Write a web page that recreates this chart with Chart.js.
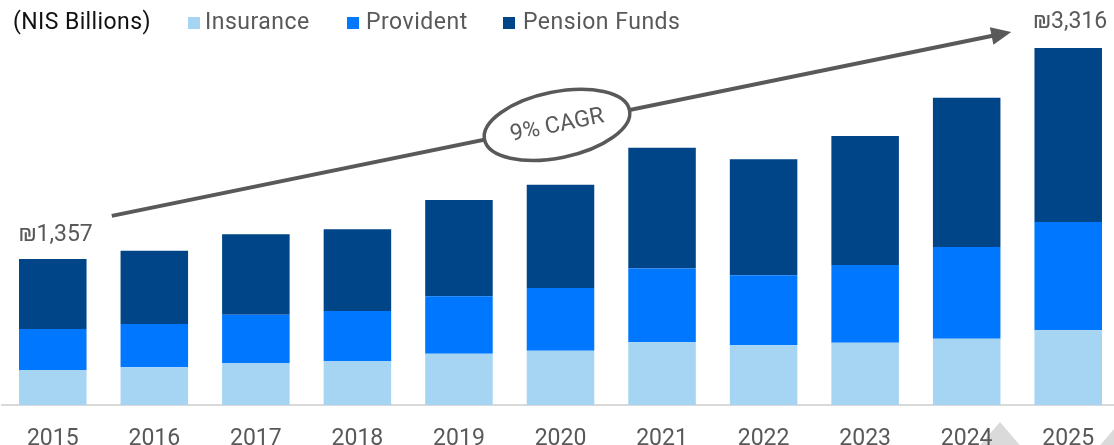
<!DOCTYPE html>
<html lang="en">
<head>
  <meta charset="UTF-8">
  <title>Pension Savings - NIS Billions</title>
  <style>
    html, body {
      margin: 0;
      padding: 0;
      background: #ffffff;
      overflow: hidden;
      width: 1114px;
      height: 445px;
    }
    .wrap {
      position: relative;
      width: 1114px;
      height: 445px;
      overflow: hidden;
      font-family: Roboto, "Noto Sans", Arial, sans-serif;
    }
    canvas {
      position: absolute;
      left: 0;
      top: 0;
    }
    .title {
      position: absolute;
      left: 13px;
      top: 10px;
      font-size: 23px;
      line-height: 23px;
      letter-spacing: 0.4px;
      color: #111;
      white-space: nowrap;
    }
    .lg-box {
      position: absolute;
      top: 17px;
      width: 12px;
      height: 12px;
    }
    .lg-text {
      position: absolute;
      top: 10px;
      font-size: 23px;
      line-height: 23px;
      letter-spacing: 0.5px;
      color: #595959;
      white-space: nowrap;
    }
  </style>
</head>
<body>
  <div class="wrap">
    <canvas id="aumChart" width="1120" height="445"></canvas>
    <div class="title">(NIS Billions)</div>
    <div id="legend"></div>
  </div>

  <script src="https://cdn.jsdelivr.net/npm/chart.js"></script>

  <script>
    const years = ["2015", "2016", "2017", "2018", "2019", "2020", "2021", "2022", "2023", "2024", "2025"];
    const insurance = [325, 350, 390, 409, 477, 505, 582, 555, 579, 616, 694];
    const provident = [381, 402, 449, 465, 533, 582, 687, 650, 722, 852, 1006];
    const pension   = [651, 681, 747, 759, 895, 960, 1120, 1078, 1198, 1387, 1616];
    const startLabel = "₪1,357";
    const endLabel = "₪3,316";
    const cagrText = "9% CAGR";

    const colors = {
      insurance: "#a6d5f3",
      provident: "#0077ff",
      pension: "#004587"
    };
    const gray = "#595959";

    // legend in html so it can sit exactly where the original has it
    const legendItems = [
      { text: "Insurance", color: colors.insurance, box: 188, left: 205 },
      { text: "Provident", color: colors.provident, box: 347, left: 366 },
      { text: "Pension Funds", color: colors.pension, box: 503, left: 523 }
    ];
    const legendBox = document.getElementById("legend");
    legendItems.forEach(item => {
      const b = document.createElement("div");
      b.className = "lg-box";
      b.style.left = item.box + "px";
      b.style.background = item.color;
      legendBox.appendChild(b);
      const t = document.createElement("div");
      t.className = "lg-text";
      t.style.left = item.left + "px";
      t.textContent = item.text;
      legendBox.appendChild(t);
    });

    const annotate = {
      id: "annotate",
      beforeDraw(chart) {
        // light gray decorative triangles at the bottom right
        const ctx = chart.ctx;
        ctx.save();
        ctx.fillStyle = "#dadada";
        ctx.beginPath();
        ctx.moveTo(1000, 422);
        ctx.lineTo(1024, 450);
        ctx.lineTo(976, 450);
        ctx.closePath();
        ctx.fill();
        ctx.beginPath();
        ctx.moveTo(1120, 422);
        ctx.lineTo(1144, 450);
        ctx.lineTo(1096, 450);
        ctx.closePath();
        ctx.fill();
        ctx.restore();
      },
      afterDraw(chart) {
        const ctx = chart.ctx;
        const top = chart.getDatasetMeta(2).data;
        const first = top[0];
        const last = top[top.length - 1];

        ctx.save();
        ctx.fillStyle = gray;
        ctx.font = "23px Roboto, 'DejaVu Sans', sans-serif";
        ctx.textAlign = "center";
        ctx.textBaseline = "middle";
        ctx.fillText(startLabel, first.x + 3, first.y - 24);
        ctx.fillText(endLabel, last.x + 2, last.y - 26);

        // CAGR arrow
        const x1 = first.x + 59, y1 = first.y - 43;
        const x2 = last.x - 57, y2 = last.y - 16;
        const ang = Math.atan2(y2 - y1, x2 - x1);
        ctx.strokeStyle = gray;
        ctx.lineWidth = 4;
        ctx.beginPath();
        ctx.moveTo(x1, y1);
        ctx.lineTo(x2 - 14 * Math.cos(ang), y2 - 14 * Math.sin(ang));
        ctx.stroke();
        ctx.beginPath();
        ctx.moveTo(x2, y2);
        ctx.lineTo(x2 - 20 * Math.cos(ang) + 9 * Math.sin(ang), y2 - 20 * Math.sin(ang) - 9 * Math.cos(ang));
        ctx.lineTo(x2 - 20 * Math.cos(ang) - 9 * Math.sin(ang), y2 - 20 * Math.sin(ang) + 9 * Math.cos(ang));
        ctx.closePath();
        ctx.fill();

        // ellipse with the label
        const cx = 557;
        const cy = y1 + (cx - x1) * Math.tan(ang);
        ctx.translate(cx, cy);
        ctx.rotate(ang);
        ctx.beginPath();
        ctx.ellipse(0, 0, 74, 33, 0, 0, Math.PI * 2);
        ctx.fillStyle = "#ffffff";
        ctx.fill();
        ctx.lineWidth = 3.5;
        ctx.stroke();
        ctx.fillStyle = gray;
        ctx.font = "23px Roboto, sans-serif";
        ctx.fillText(cagrText, 0, 1);
        ctx.restore();
      }
    };

    new Chart(document.getElementById("aumChart").getContext("2d"), {
      type: "bar",
      data: {
        labels: years,
        datasets: [
          { label: "Insurance", data: insurance, backgroundColor: colors.insurance },
          { label: "Provident", data: provident, backgroundColor: colors.provident },
          { label: "Pension Funds", data: pension, backgroundColor: colors.pension }
        ]
      },
      options: {
        responsive: false,
        animation: false,
        events: [],
        layout: { padding: { left: 2, right: 1, top: 0, bottom: 0 } },
        datasets: {
          bar: { categoryPercentage: 1, barPercentage: 0.665, borderWidth: 0 }
        },
        scales: {
          x: {
            stacked: true,
            grid: { display: false, drawTicks: false },
            border: { display: true, color: "#d9d9d9", width: 2 },
            ticks: {
              color: gray,
              font: { family: "Roboto", size: 23 },
              padding: 20,
              maxRotation: 0
            },
            afterFit: s => { s.height = 40; }
          },
          y: {
            stacked: true,
            display: false,
            min: 0,
            max: 3762
          }
        },
        plugins: {
          legend: { display: false },
          tooltip: { enabled: false }
        }
      },
      plugins: [annotate]
    });
  </script>
</body>
</html>
